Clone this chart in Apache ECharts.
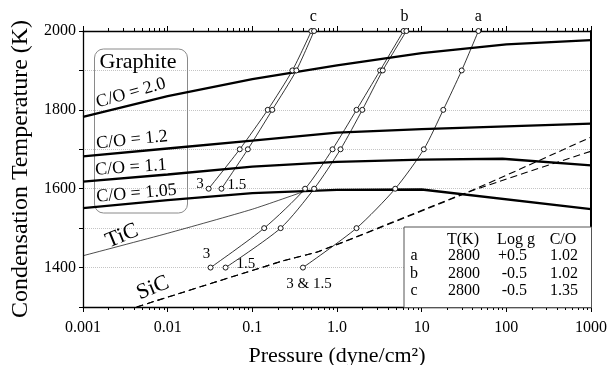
<!DOCTYPE html>
<html>
<head>
<meta charset="utf-8">
<script src="https://cdn.jsdelivr.net/npm/echarts@6/dist/echarts.min.js"></script>
<style>
  html, body { margin: 0; padding: 0; background: #fff; }
  #chart { width: 610px; height: 365px; }
</style>
</head>
<body>
<div id="chart"></div>
<script>
// ---- axis ticks ----
const pressureTicks = [0.001, 0.01, 0.1, 1, 10, 100, 1000];
const pressureTickLabels = ['0.001', '0.01', '0.1', '1.0', '10', '100', '1000'];

// ---- graphite condensation curves: [pressure, T] ----
const graphite20 = [[0.001, 1782], [0.01, 1835], [0.1, 1878], [1, 1913], [10, 1944], [100, 1966], [1000, 1977]];
const graphite12 = [[0.001, 1682], [0.01, 1702], [0.1, 1722], [1, 1742], [10, 1751], [100, 1758], [1000, 1765]];
const graphite11 = [[0.001, 1618], [0.01, 1636], [0.1, 1656], [1, 1668], [10, 1674], [90, 1676], [1000, 1659]];
const graphite105 = [[0.001, 1551], [0.01, 1571], [0.1, 1589], [1, 1597], [10, 1598], [1000, 1548]];

// ---- TiC and SiC ----
const ticLine = [[0.001, 1430], [0.01, 1487], [0.1, 1548], [0.42, 1594]];
const sicLower = [[0.0043, 1300], [0.23, 1417], [0.63, 1442], [34, 1590], [1000, 1695]];
const sicUpper = [[0.0043, 1300], [0.23, 1417], [0.63, 1442], [34, 1590], [1000, 1731]];

// ---- shaded band: shared pressures, lower and upper temperature edges ----
const bandP = [0.4, 10, 50, 1000];
const bandLow = [1594, 1697, 1742, 1858];
const bandHigh = [1597, 1709, 1771, 1909];

// ---- atmosphere profiles ----
const profileT = [1400, 1500, 1600, 1700, 1800, 1900, 2000];
const profileA = [0.396, 1.70, 4.87, 10.6, 18.0, 29.7, 46.8];
const profileB3 = [0.0321, 0.138, 0.42, 0.885, 1.70, 3.23, 6.1];
const profileB15 = [0.0483, 0.216, 0.537, 1.10, 1.99, 3.47, 6.6];
const profileCT = [1600, 1700, 1800, 1900, 2000];
const profileC3 = [0.0305, 0.0710, 0.152, 0.297, 0.498];
const profileC15 = [0.0432, 0.0885, 0.172, 0.331, 0.536];

// ---- table ----
const tableHeader = ['T(K)', 'Log g', 'C/O'];
const tableRows = [
  ['a', '2800', '+0.5', '1.02'],
  ['b', '2800', '-0.5', '1.02'],
  ['c', '2800', '-0.5', '1.35']
];

const FONT = "'Liberation Serif', 'Times New Roman', 'DejaVu Serif', serif";

function pairs(ps, ts) { return ps.map((p, i) => [p, ts[i]]); }

function thickLine(name, data) {
  return {
    name, type: 'line', data, symbol: 'none', silent: true, z: 4,
    lineStyle: { color: '#000', width: 2.3 }
  };
}

function profile(name, ps, ts, labels) {
  const data = pairs(ps, ts).map((d, i) => {
    const item = { value: d };
    if (labels && labels[i]) item.label = Object.assign({ show: true, color: '#000', fontFamily: FONT, fontSize: 15 }, labels[i]);
    return item;
  });
  return {
    name, type: 'line', data, smooth: 0.25, z: 6,
    symbol: 'circle', symbolSize: 5,
    itemStyle: { color: '#fff', borderColor: '#000', borderWidth: 0.9 },
    lineStyle: { color: '#000', width: 0.8 },
    label: { show: false }
  };
}

function txt(x, y, text, size, rotDeg, align) {
  return {
    type: 'text', x, y, rotation: (rotDeg || 0) * Math.PI / 180, z: 10,
    style: { text, fontFamily: FONT, fontSize: size, fill: '#000', align: align || 'center', verticalAlign: 'middle' }
  };
}

const chart = echarts.init(document.getElementById('chart'), null, { renderer: 'canvas' });

const xLabel = v => {
  const k = Math.round(Math.log10(v));
  const idx = pressureTicks.findIndex(t => Math.round(Math.log10(t)) === k);
  return idx >= 0 ? pressureTickLabels[idx] : '';
};

const option = {
  backgroundColor: '#fff',
  animation: false,
  textStyle: { fontFamily: FONT },
  grid: { left: 83, right: 19, top: 31, bottom: 58, containLabel: false, outerBoundsMode: 'none' },
  xAxis: [
    {
      type: 'log', logBase: 10, min: 0.001, max: 1000, splitNumber: 6,
      position: 'bottom',
      name: 'Pressure (dyne/cm²)', nameLocation: 'middle', nameGap: 38,
      nameTextStyle: { fontFamily: FONT, fontSize: 22, color: '#000' },
      axisLine: { show: true, lineStyle: { color: '#000', width: 1.3 } },
      axisTick: { show: true, inside: false, length: 5, lineStyle: { color: '#000' } },
      minorTick: { show: true, splitNumber: 9, length: 3, lineStyle: { color: '#000' } },
      axisLabel: { formatter: xLabel, fontFamily: FONT, fontSize: 16, color: '#000', margin: 13 },
      splitLine: { show: false }
    },
    {
      type: 'log', logBase: 10, min: 0.001, max: 1000, splitNumber: 6,
      position: 'top',
      axisLine: { show: true, lineStyle: { color: '#000', width: 1.3 } },
      axisTick: { show: true, inside: false, length: 5, lineStyle: { color: '#000' } },
      minorTick: { show: true, splitNumber: 9, length: 3, lineStyle: { color: '#000' } },
      axisLabel: { show: false },
      splitLine: { show: false }
    }
  ],
  yAxis: [
    {
      type: 'value', min: 1300, max: 2000, interval: 100,
      name: 'Condensation Temperature (K)', nameLocation: 'middle', nameGap: 50,
      nameTextStyle: { fontFamily: FONT, fontSize: 24, color: '#000' },
      axisLine: { show: true, lineStyle: { color: '#000', width: 1.3 } },
      axisTick: { show: true, inside: false, length: 4, lineStyle: { color: '#000' } },
      axisLabel: {
        formatter: v => (v % 200 === 0 ? String(v) : ''),
        fontFamily: FONT, fontSize: 16, color: '#000', margin: 7
      },
      splitLine: { show: true, lineStyle: { color: '#c4c4c4', type: 'dotted', width: 1 } }
    },
    {
      type: 'value', min: 1300, max: 2000, position: 'right',
      axisLine: { show: true, lineStyle: { color: '#000', width: 2 } },
      axisTick: { show: false }, axisLabel: { show: false }, splitLine: { show: false }
    }
  ],
  series: [
    // shaded band between two edges
    {
      name: 'band-low', type: 'line', stack: 'band', data: pairs(bandP, bandLow),
      symbol: 'none', silent: true, z: 2, lineStyle: { opacity: 0 }
    },
    {
      name: 'band', type: 'line', stack: 'band',
      data: bandP.map((p, i) => [p, bandHigh[i] - bandLow[i]]),
      symbol: 'none', silent: true, z: 2,
      lineStyle: { color: '#858585', width: 0.6 },
      areaStyle: { color: '#8e8e8e', opacity: 1 }
    },
    thickLine('C/O = 2.0', graphite20),
    thickLine('C/O = 1.2', graphite12),
    thickLine('C/O = 1.1', graphite11),
    thickLine('C/O = 1.05', graphite105),
    {
      name: 'TiC', type: 'line', data: ticLine, symbol: 'none', silent: true, smooth: 0.2, z: 3,
      lineStyle: { color: '#000', width: 0.7 }
    },
    {
      name: 'SiC-1', type: 'line', data: sicLower, symbol: 'none', silent: true, smooth: 0.2, z: 3,
      lineStyle: { color: '#000', width: 1.1, type: [7, 4] }
    },
    {
      name: 'SiC-2', type: 'line', data: sicUpper, symbol: 'none', silent: true, smooth: 0.2, z: 3,
      lineStyle: { color: '#000', width: 1.1, type: [7, 4] }
    },
    profile('a', profileA, profileT, {
      0: { position: 'bottom', distance: 6, offset: [6, 0], formatter: '3 & 1.5' },
      6: { position: 'top', distance: 3, formatter: 'a', fontSize: 16 }
    }),
    profile('b3', profileB3, profileT, {
      0: { position: 'top', distance: 3, offset: [-4, 0], formatter: '3' },
      6: { position: 'top', distance: 3, offset: [1, 0], formatter: 'b', fontSize: 16 }
    }),
    profile('b15', profileB15, profileT, {
      0: { position: 'right', distance: 8, offset: [0, -4], formatter: '1.5' }
    }),
    profile('c3', profileC3, profileCT, {
      0: { position: 'left', distance: 2, offset: [0, -5], formatter: '3' },
      4: { position: 'top', distance: 3, offset: [2, 0], formatter: 'c', fontSize: 16 }
    }),
    profile('c15', profileC15, profileCT, {
      0: { position: 'right', distance: 3, offset: [0, -4], formatter: '1.5' }
    })
  ],
  graphic: [
    // graphite box
    {
      type: 'rect', left: 92, top: 46.5, z: 1,
      shape: { width: 93, height: 164, r: 9 },
      style: { fill: 'none', stroke: '#8a8a8a', lineWidth: 1 }
    },
    txt(138, 62, 'Graphite', 22),
    txt(131, 93, 'C/O = 2.0', 18, 16),
    txt(132, 140, 'C/O = 1.2', 18, 6),
    txt(131, 167.5, 'C/O = 1.1', 18, 4),
    txt(136.5, 193.5, 'C/O = 1.05', 18, 5),
    txt(122, 236, 'TiC', 22, 22),
    txt(153, 288, 'SiC', 22, 22),
    // parameter table
    {
      type: 'rect', left: 403.5, top: 226.5, z: 8,
      shape: { width: 187.5, height: 80.5 },
      style: { fill: '#fff', stroke: '#555', lineWidth: 1 }
    },
    {
      type: 'group', z: 10,
      children: [].concat(
        tableHeader.map((h, i) => txt([463, 516, 563][i], 240, h, 16)),
        ...tableRows.map((r, j) => [
          txt(414, 256 + j * 17.5, r[0], 16),
          txt(464, 256 + j * 17.5, r[1], 16),
          txt(527, 256 + j * 17.5, r[2], 16, 0, 'right'),
          txt(564, 256 + j * 17.5, r[3], 16)
        ])
      )
    }
  ]
};

chart.setOption(option);
</script>
</body>
</html>
